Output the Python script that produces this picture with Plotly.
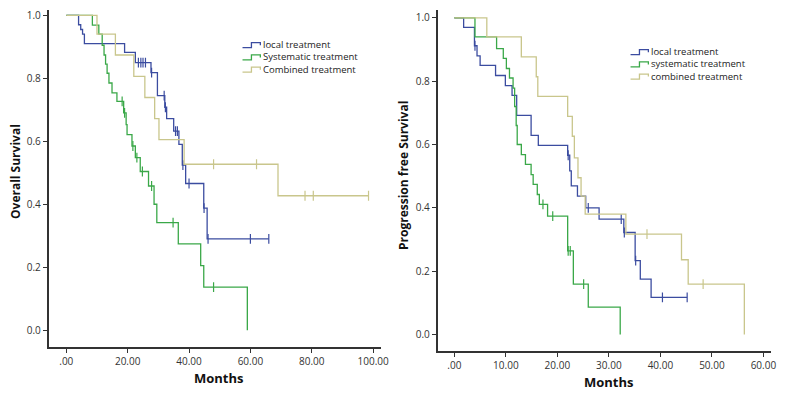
import plotly.graph_objects as go

W, H = 790, 394

# ---------------- data ----------------
series_names_os = ["local treatment", "Systematic treatment", "Combined treatment"]
series_names_pfs = ["local treatment", "systematic treatment", "combined treatment"]

# Overall survival (left panel): step points (time, survival after event)
os_local_t = [0, 4.0, 4.7, 5.3, 5.9, 19.0, 22.5, 27.6, 29.7, 32.1, 32.7, 35.0, 36.7, 37.8, 38.9, 44.8, 45.9, 66.0]
os_local_s = [1.0, 0.97, 0.955, 0.94, 0.91, 0.882, 0.85, 0.818, 0.745, 0.708, 0.672, 0.632, 0.59, 0.524, 0.466, 0.388, 0.29, 0.29]
os_local_ct = [23.5, 24.3, 25.0, 25.8, 27.8, 31.9, 32.3, 35.6, 36.2, 38.0, 40.0, 44.9, 46.2, 60.0, 66.0]
os_local_cs = [0.85, 0.85, 0.85, 0.85, 0.818, 0.745, 0.708, 0.632, 0.632, 0.524, 0.466, 0.388, 0.29, 0.29, 0.29]

os_sys_t = [0, 8.5, 10.6, 11.7, 12.3, 12.8, 13.3, 13.9, 14.9, 16.5, 18.7, 19.5, 19.8, 21.4, 22.5, 24.1, 26.8, 28.6, 29.5, 36.5, 43.8, 44.8, 59.0]
os_sys_s = [1.0, 0.969, 0.94, 0.905, 0.874, 0.845, 0.816, 0.785, 0.754, 0.727, 0.69, 0.653, 0.621, 0.585, 0.548, 0.504, 0.458, 0.40, 0.342, 0.274, 0.205, 0.137, 0.0]
os_sys_ct = [18.2, 19.0, 21.7, 23.0, 24.8, 27.8, 34.8, 48.0]
os_sys_cs = [0.727, 0.69, 0.585, 0.548, 0.504, 0.458, 0.342, 0.137]

os_comb_t = [0, 10.0, 16.0, 22.0, 25.6, 28.8, 30.2, 38.4, 69.0, 98.5]
os_comb_s = [1.0, 0.94, 0.874, 0.806, 0.739, 0.672, 0.605, 0.527, 0.427, 0.427]
os_comb_ct = [48.0, 62.0, 77.8, 80.5, 98.5]
os_comb_cs = [0.527, 0.527, 0.427, 0.427, 0.427]

# Progression free survival (right panel)
pfs_local_t = [0, 1.8, 3.9, 4.4, 5.0, 8.0, 9.9, 11.2, 12.1, 14.9, 16.3, 22.0, 22.4, 22.7, 23.9, 25.5, 28.1, 32.9, 35.1, 36.1, 38.2, 45.2]
pfs_local_s = [1.0, 0.97, 0.912, 0.88, 0.85, 0.818, 0.786, 0.755, 0.692, 0.629, 0.597, 0.566, 0.517, 0.469, 0.437, 0.40, 0.364, 0.322, 0.233, 0.175, 0.117, 0.117]
pfs_local_ct = [4.0, 22.1, 26.0, 32.4, 33.0, 35.2, 40.4, 45.2]
pfs_local_cs = [0.912, 0.566, 0.40, 0.364, 0.322, 0.233, 0.117, 0.117]

pfs_sys_t = [0, 4.0, 8.2, 9.5, 10.1, 10.7, 11.4, 11.7, 12.0, 12.2, 13.0, 13.8, 14.9, 15.3, 16.1, 16.5, 18.1, 22.0, 23.1, 26.0, 32.2]
pfs_sys_s = [1.0, 0.94, 0.903, 0.872, 0.84, 0.81, 0.778, 0.72, 0.66, 0.60, 0.568, 0.537, 0.505, 0.474, 0.442, 0.411, 0.374, 0.264, 0.159, 0.086, 0.0]
pfs_sys_ct = [17.2, 19.1, 22.1, 22.5, 25.1]
pfs_sys_cs = [0.411, 0.374, 0.264, 0.264, 0.159]

pfs_comb_t = [0, 6.3, 13.0, 15.9, 16.2, 22.0, 22.9, 23.3, 24.0, 24.6, 25.4, 33.3, 44.1, 45.4, 56.3]
pfs_comb_s = [1.0, 0.94, 0.877, 0.814, 0.752, 0.689, 0.626, 0.558, 0.495, 0.437, 0.38, 0.317, 0.236, 0.159, 0.0]
pfs_comb_ct = [37.4, 48.3]
pfs_comb_cs = [0.317, 0.159]

y_tickvals = [0.0, 0.2, 0.4, 0.6, 0.8, 1.0]
y_ticktext = ["0.0", "0.2", "0.4", "0.6", "0.8", "1.0"]
os_x_tickvals = [0, 20, 40, 60, 80, 100]
os_x_ticktext = [".00", "20.00", "40.00", "60.00", "80.00", "100.00"]
pfs_x_tickvals = [0, 10, 20, 30, 40, 50, 60]
pfs_x_ticktext = [".00", "10.00", "20.00", "30.00", "40.00", "50.00", "60.00"]

colors = ["#3b4ca0", "#3aa848", "#c9c68c"]
FONT = "Open Sans"
TXT = "#333333"

fig = go.Figure()

def add_curve(t, s, ct, cs, color, xa, ya):
    fig.add_trace(go.Scatter(x=t, y=s, mode="lines", line=dict(color=color, width=1.3, shape="hv"),
                             xaxis=xa, yaxis=ya, showlegend=False, hoverinfo="skip"))
    fig.add_trace(go.Scatter(x=ct, y=cs, mode="markers",
                             marker=dict(symbol="line-ns", size=7, line=dict(color=color, width=1.2)),
                             xaxis=xa, yaxis=ya, showlegend=False, hoverinfo="skip"))

add_curve(os_local_t, os_local_s, os_local_ct, os_local_cs, colors[0], "x", "y")
add_curve(os_sys_t, os_sys_s, os_sys_ct, os_sys_cs, colors[1], "x", "y")
add_curve(os_comb_t, os_comb_s, os_comb_ct, os_comb_cs, colors[2], "x", "y")
add_curve(pfs_local_t, pfs_local_s, pfs_local_ct, pfs_local_cs, colors[0], "x2", "y2")
add_curve(pfs_sys_t, pfs_sys_s, pfs_sys_ct, pfs_sys_cs, colors[1], "x2", "y2")
add_curve(pfs_comb_t, pfs_comb_s, pfs_comb_ct, pfs_comb_cs, colors[2], "x2", "y2")

def px(x):
    return x / W

def py(y):
    return 1 - y / H

axis_common = dict(showline=True, linecolor="#333333", linewidth=1.5, ticks="outside", ticklen=4,
                   tickcolor="#333333", tickwidth=1.2, showgrid=False, zeroline=False,
                   tickfont=dict(family=FONT, size=10, color=TXT))

fig.update_layout(
    width=W, height=H, margin=dict(l=0, r=0, t=0, b=0),
    paper_bgcolor="white", plot_bgcolor="white", showlegend=False,
    xaxis=dict(domain=[px(49), px(385)], range=[-5.8, 102.6], tickvals=os_x_tickvals, ticktext=os_x_ticktext,
               anchor="y", **axis_common),
    yaxis=dict(domain=[py(347), py(8)], range=[-0.054, 1.017], tickvals=y_tickvals, ticktext=y_ticktext,
               anchor="x", **axis_common),
    xaxis2=dict(domain=[px(442), px(779)], range=[-3.27, 61.5], tickvals=pfs_x_tickvals, ticktext=pfs_x_ticktext,
                anchor="y2", **axis_common),
    yaxis2=dict(domain=[py(351), py(8)], range=[-0.053, 1.025], tickvals=y_tickvals, ticktext=y_ticktext,
                anchor="x2", **axis_common),
)

annotations = []
shapes = []
# axis titles
def title(text, x, y, size, angle=0):
    annotations.append(dict(text="<b>%s</b>" % text, x=px(x), y=py(y), xref="paper", yref="paper",
                            xanchor="center", yanchor="middle", textangle=angle, showarrow=False,
                            font=dict(family=FONT, size=size, color="#111")))

title("Months", 221, 378, 13)
title("Months", 615, 382, 13)
title("Overall Survival", 15, 170, 12, -90)
title("Progression free Survival", 407, 174, 12, -90)

# custom legends with small step icons; labels in one multi-line text block
LEG_FS = 9.5
LEG_STEP = 12.3

def legend(names, icon_x, text_x, y_mid):
    ys = [y_mid - LEG_STEP, y_mid, y_mid + LEG_STEP]
    for c, yc in zip(colors, ys):
        x0, x1 = icon_x, icon_x + 18
        xm = icon_x + 9
        path = "M {} {} L {} {} L {} {} L {} {} L {} {}".format(
            px(x0), py(yc + 2.5), px(xm), py(yc + 2.5), px(xm), py(yc - 2.5), px(x1), py(yc - 2.5),
            px(x1), py(yc))
        shapes.append(dict(type="path", path=path, xref="paper", yref="paper",
                           line=dict(color=c, width=1.3)))
    annotations.append(dict(text="<br>".join(names), x=px(text_x), y=py(y_mid), xref="paper", yref="paper",
                            xanchor="left", yanchor="middle", align="left", showarrow=False,
                            font=dict(family=FONT, size=LEG_FS, color="#222")))

legend(series_names_os, 245, 264, 55.7)
legend(series_names_pfs, 637, 656, 62.7)

fig.update_layout(annotations=annotations, shapes=shapes)
fig.write_html("out.html", config={"displayModeBar": False},
               post_script="document.body.style.margin='0';document.body.style.overflow='hidden';")
